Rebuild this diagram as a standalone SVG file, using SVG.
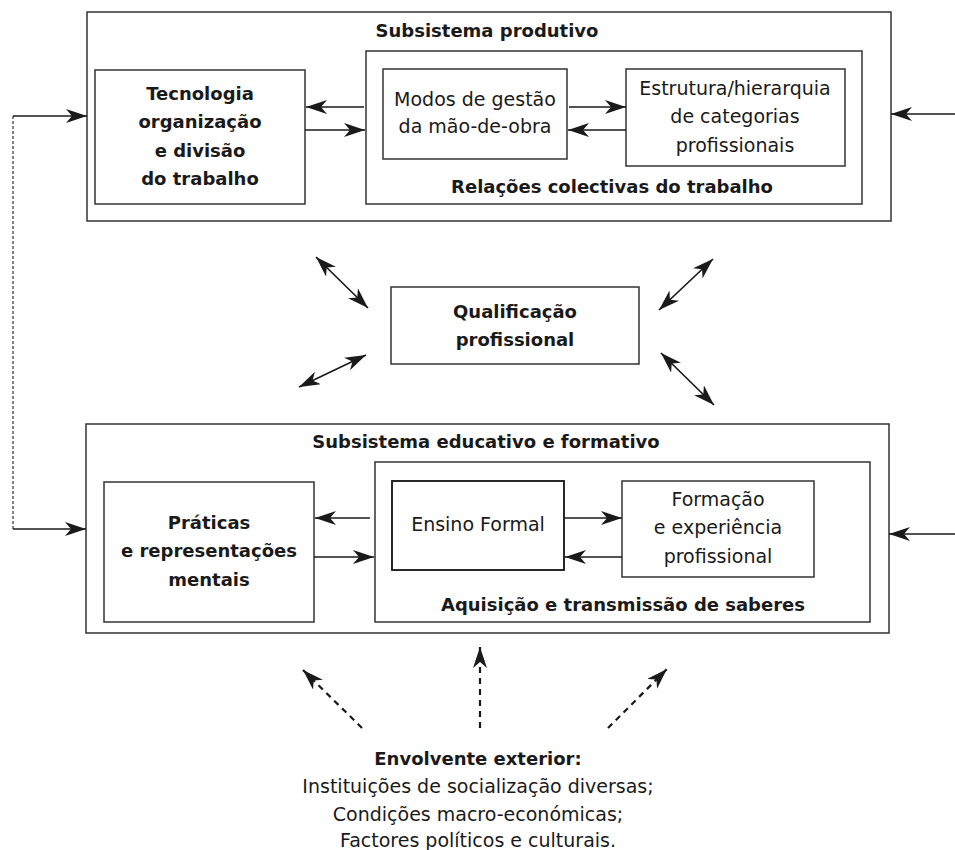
<svg xmlns="http://www.w3.org/2000/svg" width="955" height="850" viewBox="0 0 955 850">
<style>
.box{fill:none;stroke:#333;stroke-width:1.5}
.t{font-family:"DejaVu Sans",sans-serif;font-size:19px;fill:#1a1a1a;text-anchor:middle}
.b{font-family:"DejaVu Sans",sans-serif;font-size:18px;font-weight:bold;fill:#1a1a1a;text-anchor:middle}
.ln{stroke:#1a1a1a;stroke-width:1.7;fill:none}
.dl{stroke:#1a1a1a;stroke-width:2.2;fill:none;stroke-dasharray:6 5}
.fd{stroke:#333;stroke-width:1.2;fill:none;stroke-dasharray:3 2}
</style>
<defs>
<marker id="ah" markerUnits="userSpaceOnUse" markerWidth="24" markerHeight="16" refX="21" refY="7" orient="auto-start-reverse">
<path d="M0,0 L21,7 L0,14 L6,7 Z" fill="#1a1a1a"/>
</marker>
</defs>
<g id="produtivo">
<rect class="box" x="87" y="12" width="804" height="209"/>
<text class="b" x="487" y="37">Subsistema produtivo</text>
</g>
<g id="tecnologia">
<rect class="box" x="95" y="70" width="210" height="134"/>
<text class="b" x="200" y="100">Tecnologia</text>
<text class="b" x="200" y="128">organização</text>
<text class="b" x="200" y="157">e divisão</text>
<text class="b" x="200" y="185">do trabalho</text>
</g>
<g id="relacoes">
<rect class="box" x="366" y="51" width="496" height="153"/>
<text class="b" x="612" y="193">Relações colectivas do trabalho</text>
</g>
<g id="modos">
<rect class="box" x="383" y="69" width="184" height="90"/>
<text class="t" x="475" y="106">Modos de gestão</text>
<text class="t" x="475" y="133">da mão-de-obra</text>
</g>
<g id="estrutura">
<rect class="box" x="626" y="69" width="219" height="97"/>
<text class="t" x="735" y="95">Estrutura/hierarquia</text>
<text class="t" x="735" y="123">de categorias</text>
<text class="t" x="735" y="152">profissionais</text>
</g>
<g id="qualificacao">
<rect class="box" x="391" y="287" width="248" height="77"/>
<text class="b" x="515" y="318">Qualificação</text>
<text class="b" x="515" y="346">profissional</text>
</g>
<g id="educativo">
<rect class="box" x="86" y="424" width="803" height="209"/>
<text class="b" x="486" y="448">Subsistema educativo e formativo</text>
</g>
<g id="praticas">
<rect class="box" x="104" y="482" width="210" height="140"/>
<text class="b" x="209" y="529">Práticas</text>
<text class="b" x="209" y="557">e representações</text>
<text class="b" x="209" y="586">mentais</text>
</g>
<g id="aquisicao">
<rect class="box" x="375" y="462" width="495" height="160"/>
<text class="b" x="623" y="611">Aquisição e transmissão de saberes</text>
</g>
<g id="ensino">
<rect class="box" x="392" y="481" width="172" height="89" style="stroke:#111;stroke-width:1.8"/>
<text class="t" x="478" y="531">Ensino Formal</text>
</g>
<g id="formacao">
<rect class="box" x="622" y="481" width="192" height="96"/>
<text class="t" x="718" y="506">Formação</text>
<text class="t" x="718" y="534">e experiência</text>
<text class="t" x="718" y="563">profissional</text>
</g>
<g id="envolvente">
<text class="b" x="478" y="765">Envolvente exterior:</text>
<text class="t" x="478" y="793">Instituições de socialização diversas;</text>
<text class="t" x="478" y="821">Condições macro-económicas;</text>
<text class="t" x="478" y="847">Factores políticos e culturais.</text>
</g>
<g id="connectors">
<path class="fd" d="M13,116 V529"/>
<path class="ln" d="M13,116 H87" marker-end="url(#ah)"/>
<path class="ln" d="M13,529 H86" marker-end="url(#ah)"/>
<path class="ln" d="M955,114 H891" marker-end="url(#ah)"/>
<path class="ln" d="M955,534 H889" marker-end="url(#ah)"/>
<path class="ln" d="M364,107 H306" marker-end="url(#ah)"/>
<path class="ln" d="M305,130 H365" marker-end="url(#ah)"/>
<path class="ln" d="M569,107 H626" marker-end="url(#ah)"/>
<path class="ln" d="M626,130 H568" marker-end="url(#ah)"/>
<path class="ln" d="M370,518 H315" marker-end="url(#ah)"/>
<path class="ln" d="M314,557 H374" marker-end="url(#ah)"/>
<path class="ln" d="M565,518 H622" marker-end="url(#ah)"/>
<path class="ln" d="M622,557 H565" marker-end="url(#ah)"/>
<path class="ln" d="M316,257 L368,308" marker-start="url(#ah)" marker-end="url(#ah)"/>
<path class="ln" d="M299,387 L366,355" marker-start="url(#ah)" marker-end="url(#ah)"/>
<path class="ln" d="M713,259 L659,310" marker-start="url(#ah)" marker-end="url(#ah)"/>
<path class="ln" d="M661,353 L714,405" marker-start="url(#ah)" marker-end="url(#ah)"/>
<path class="dl" d="M362,728 L303,670" marker-end="url(#ah)"/>
<path class="dl" d="M480,728 L480,647" marker-end="url(#ah)"/>
<path class="dl" d="M608,728 L667,669" marker-end="url(#ah)"/>
</g>
</svg>
